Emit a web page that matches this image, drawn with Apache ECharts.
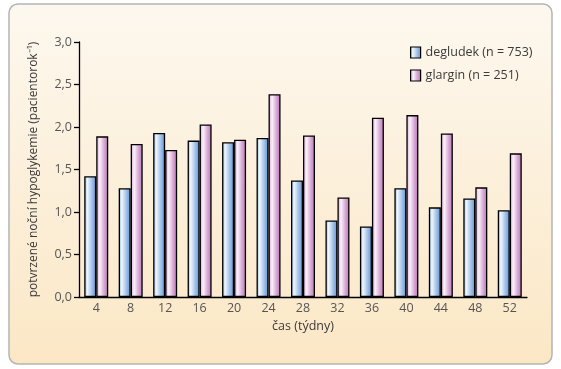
<!DOCTYPE html>
<html><head><meta charset="utf-8">
<script src="https://cdn.jsdelivr.net/npm/echarts@6/dist/echarts.min.js"></script>
<style>html,body{margin:0;padding:0;background:#fff}#c{width:561px;height:369px}</style>
</head><body><div id="c"></div>
<script>
const categories = ['4','8','12','16','20','24','28','32','36','40','44','48','52'];
const degludek = [1.42,1.28,1.93,1.84,1.82,1.87,1.37,0.90,0.83,1.28,1.055,1.16,1.02];
const glargin  = [1.89,1.80,1.73,2.03,1.85,2.385,1.90,1.17,2.11,2.14,1.925,1.29,1.69];
const seriesNames = ['degludek (n = 753)','glargin (n = 251)'];
const yTicks = [0,0.5,1.0,1.5,2.0,2.5,3.0];

const font = 'Open Sans';
function grad(stops){ return new echarts.graphic.LinearGradient(0,0,1,0,stops.map(s=>({offset:s[0],color:s[1]}))); }
const blueFill = grad([[0,'#7fa9dd'],[0.25,'#f2f7fd'],[0.6,'#a9c6ea'],[1,'#5d93d6']]);
const pinkFill = grad([[0,'#d6a6d4'],[0.3,'#fbf1fa'],[0.65,'#d8aad6'],[1,'#b476b2']]);

const chart = echarts.init(document.getElementById('c'));
chart.setOption({
  animation:false,
  backgroundColor:'#ffffff',
  textStyle:{fontFamily:font},
  graphic:[{
    type:'rect', z:-10, silent:true,
    shape:{x:9,y:4,width:543,height:360,r:9},
    style:{fill:new echarts.graphic.LinearGradient(0,0,0,1,[{offset:0,color:'#fdf8ef'},{offset:1,color:'#fbe7c5'}]),stroke:'#b4b4b4',lineWidth:1.5}
  }],
  legend:{
    orient:'vertical', left:405, top:41, itemWidth:10, itemHeight:11, itemGap:10, icon:'rect',
    textStyle:{fontFamily:font,fontSize:12.5,color:'#3a3a3a'},
    data:[{name:seriesNames[0],itemStyle:{color:blueFill,borderColor:'#000',borderWidth:1.2}},
          {name:seriesNames[1],itemStyle:{color:pinkFill,borderColor:'#000',borderWidth:1.2}}]
  },
  grid:{left:79,right:34,top:42,bottom:72,containLabel:false},
  xAxis:{
    type:'category', data:categories,
    name:'čas (týdny)', nameLocation:'middle', nameGap:21,
    nameTextStyle:{fontFamily:font,fontSize:12.5,color:'#3a3a3a'},
    axisLine:{lineStyle:{color:'#000',width:1.3}},
    axisTick:{length:5,lineStyle:{color:'#000',width:1.3}},
    axisLabel:{fontFamily:font,fontSize:12.5,color:'#555',margin:5}
  },
  yAxis:{
    type:'value', min:yTicks[0], max:yTicks[yTicks.length-1], interval:0.5,
    name:'potvrzené noční hypoglykemie (pacientorok⁻¹)', nameLocation:'middle', nameGap:39,
    nameTextStyle:{fontFamily:font,fontSize:12,color:'#3a3a3a'},
    axisLine:{show:true,lineStyle:{color:'#000',width:1.3}},
    axisTick:{show:true,length:5,lineStyle:{color:'#000',width:1.3}},
    splitLine:{show:false},
    axisLabel:{fontFamily:font,fontSize:12.5,color:'#555',margin:7,formatter:v=>v.toFixed(1).replace('.',',')}
  },
  series:[
    {name:seriesNames[0],type:'bar',data:degludek,barWidth:12,barGap:'0%',
     itemStyle:{color:blueFill,borderColor:'#000',borderWidth:1.3}},
    {name:seriesNames[1],type:'bar',data:glargin,barWidth:12,barGap:'0%',
     itemStyle:{color:pinkFill,borderColor:'#000',borderWidth:1.3}}
  ]
});
</script></body></html>
